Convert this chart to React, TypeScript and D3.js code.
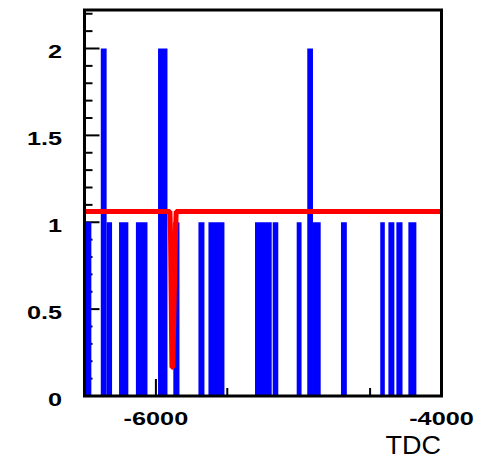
import React from "react";
import * as d3 from "d3";

// Histogram bins (TDC edges) and contents
const binLo = [-6500, -6386, -6345, -6258, -6140, -5985, -5878, -5702, -5632, -5306, -5182, -5014, -4940, -4900, -4704, -4429, -4372, -4316, -4232];
const binHi = [-6452, -6345, -6307, -6193, -6059, -5919, -5835, -5660, -5520, -5189, -5143, -4980, -4900, -4846, -4663, -4397, -4330, -4273, -4176];
const counts = [1, 2, 1, 1, 1, 2, 1, 1, 1, 1, 1, 1, 2, 1, 1, 1, 1, 1, 1];

// Fitted function (red curve) sample points
const fitX = [-6500, -5902, -5898, -5888, -5882, -5862, -5858, -4000];
const fitY = [1.062, 1.062, 0.95, 0.165, 0.165, 0.95, 1.062, 1.062];

// Axis ticks / labels
const yLabels = [0, 0.5, 1, 1.5, 2];
const yLabelText = ["0", "0.5", "1", "1.5", "2"];
const yMinor = d3.range(0, 23).map((i) => i / 10);
const xLabels = [-6000, -4000];
const xLabelText = ["-6000", "-4000"];
const xMinor = [-6500, -6000, -5500, -5000, -4500, -4000];
const xTitle = "TDC";

const W = 489;
const H = 468;
const L = 84.5;
const R = 441.5;
const T = 10;
const B = 396;

export default function App() {
  const x = d3.scaleLinear().domain([-6500, -4000]).range([L, R]);
  const y = d3.scaleLinear().domain([0, 2.2216]).range([B, T]);
  const line = d3
    .line<number>()
    .x((_, i) => x(fitX[i]))
    .y((d) => y(d));

  return (
    <svg
      width={W}
      height={H}
      style={{ position: "absolute", left: 0, top: 0, background: "#fff" }}
      fontFamily="'Liberation Sans', Arial, sans-serif"
    >
      <rect x={0} y={0} width={W} height={H} fill="#fff" />
      {/* y ticks */}
      {yMinor.map((v, i) => {
        const major = Math.abs(v * 2 - Math.round(v * 2)) < 1e-6;
        return (
          <line key={"ym" + i} x1={L} x2={L + (major ? 15 : 8)} y1={y(v)} y2={y(v)} stroke="#000" strokeWidth={2} />
        );
      })}
      {/* x ticks */}
      {xMinor.map((v, i) => {
        const major = xLabels.includes(v);
        return (
          <line key={"xm" + i} x1={x(v)} x2={x(v)} y1={B} y2={B - (major ? 17 : 8)} stroke="#000" strokeWidth={2} />
        );
      })}
      {/* bars */}
      {counts.map((c, i) => (
        <rect
          key={"b" + i}
          x={x(binLo[i])}
          width={x(binHi[i]) - x(binLo[i])}
          y={y(c)}
          height={y(0) - y(c)}
          fill="#0000ff"
        />
      ))}
      {/* fit curve */}
      <path d={line(fitY) || ""} fill="none" stroke="#ff0000" strokeWidth={5} strokeLinejoin="bevel" />
      {/* frame */}
      <rect x={L} y={T} width={R - L} height={B - T} fill="none" stroke="#000" strokeWidth={3} />
      {/* y labels */}
      {yLabels.map((v, i) => (
        <text
          key={"yl" + i}
          transform={`translate(62,${y(v) + 9.5}) scale(1.33,1)`}
          textAnchor="end"
          fontSize={19}
          fontWeight="bold"
          fill="#000"
        >
          {yLabelText[i]}
        </text>
      ))}
      {/* x labels */}
      {xLabels.map((v, i) => (
        <text
          key={"xl" + i}
          transform={`translate(${x(v)},${424.5}) scale(1.33,1)`}
          textAnchor="middle"
          fontSize={19}
          fontWeight="bold"
          fill="#000"
        >
          {xLabelText[i]}
        </text>
      ))}
      <text transform={`translate(441,454) scale(1.08,1)`} textAnchor="end" fontSize={25} fill="#000">
        {xTitle}
      </text>
    </svg>
  );
}
